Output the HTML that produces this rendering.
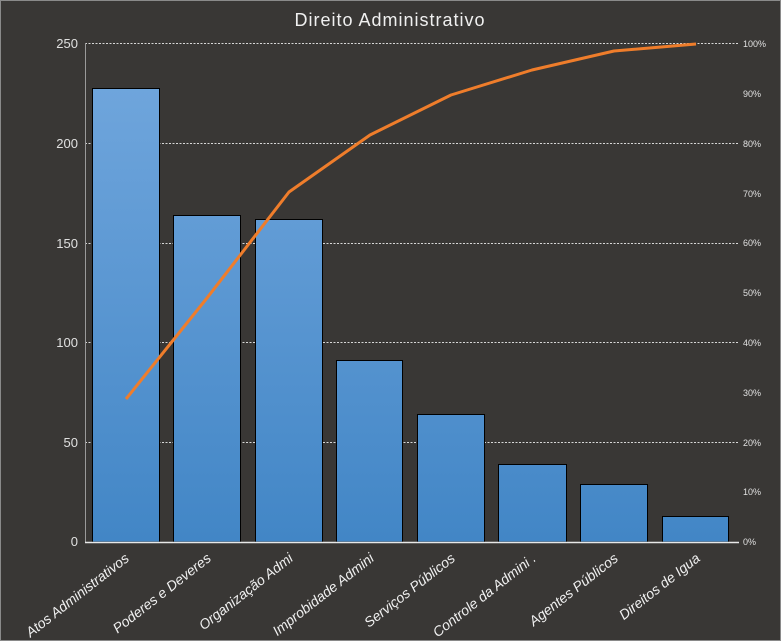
<!DOCTYPE html>
<html><head><meta charset="utf-8"><style>
html,body{margin:0;padding:0;background:#393735}
svg{display:block}
text{font-family:"Liberation Sans",sans-serif}
</style></head><body>
<svg width="781" height="641" xmlns="http://www.w3.org/2000/svg">
<defs>
<linearGradient id="g" gradientUnits="userSpaceOnUse" x1="0" y1="44" x2="0" y2="542">
<stop offset="0" stop-color="#73a8de"/><stop offset="1" stop-color="#4286c6"/>
</linearGradient>
</defs>
<rect x="0.5" y="0.5" width="780" height="640" fill="#393735" stroke="#8a8a8a"/>
<text x="390" y="26" fill="#f0f0f0" font-size="18" text-anchor="middle" letter-spacing="1">Direito Administrativo</text>
<g stroke="#d8d8d8" stroke-dasharray="2,1.5" stroke-width="1">
<line x1="85" y1="43.5" x2="739" y2="43.5"/>
<line x1="85" y1="143.5" x2="739" y2="143.5"/>
<line x1="85" y1="243.5" x2="739" y2="243.5"/>
<line x1="85" y1="342.5" x2="739" y2="342.5"/>
<line x1="85" y1="442.5" x2="739" y2="442.5"/>
</g>
<line x1="85.5" y1="43" x2="85.5" y2="542" stroke="#9a9a9a"/>
<g fill="url(#g)" stroke="#000" stroke-width="1">
<rect x="92.5" y="88.5" width="67" height="453.5"/>
<rect x="173.5" y="215.5" width="67" height="326.5"/>
<rect x="255.5" y="219.5" width="67" height="322.5"/>
<rect x="336.5" y="360.5" width="66" height="181.5"/>
<rect x="417.5" y="414.5" width="67" height="127.5"/>
<rect x="498.5" y="464.5" width="68" height="77.5"/>
<rect x="580.5" y="484.5" width="67" height="57.5"/>
<rect x="662.5" y="516.5" width="66" height="25.5"/>
</g>
<line x1="85" y1="542.5" x2="739" y2="542.5" stroke="#e8e8e8" stroke-width="1.5"/>
<polyline points="126,399 207,298 289,192 370,135 451,95 532,70 614,51 696,44" fill="none" stroke="#ef7d2b" stroke-width="3" stroke-linejoin="round"/>
<g fill="#e0e0e0" font-size="13" text-anchor="end">
<text x="78" y="48">250</text><text x="78" y="148">200</text><text x="78" y="248">150</text>
<text x="78" y="347">100</text><text x="78" y="447">50</text><text x="78" y="546">0</text>
</g>
<g fill="#e0e0e0" font-size="9">
<text x="743" y="47">100%</text><text x="743" y="97">90%</text><text x="743" y="147">80%</text>
<text x="743" y="197">70%</text><text x="743" y="246">60%</text><text x="743" y="296">50%</text>
<text x="743" y="346">40%</text><text x="743" y="396">30%</text><text x="743" y="446">20%</text>
<text x="743" y="495">10%</text><text x="743" y="545">0%</text>
</g>
<g fill="#f0f0f0" font-size="14" font-style="italic" text-anchor="end">
<text transform="translate(130,560) rotate(-38)">Atos Administrativos</text>
<text transform="translate(212,560) rotate(-38)">Poderes e Deveres</text>
<text transform="translate(294,560) rotate(-38)">Organização Admi</text>
<text transform="translate(375,560) rotate(-38)">Improbidade  Admini</text>
<text transform="translate(456,560) rotate(-38)">Serviços Públicos</text>
<text transform="translate(537,560) rotate(-38)">Controle da Admini  .</text>
<text transform="translate(619,560) rotate(-38)">Agentes Públicos</text>
<text transform="translate(701,560) rotate(-38)">Direitos de Igua</text>
</g>
</svg>
</body></html>
